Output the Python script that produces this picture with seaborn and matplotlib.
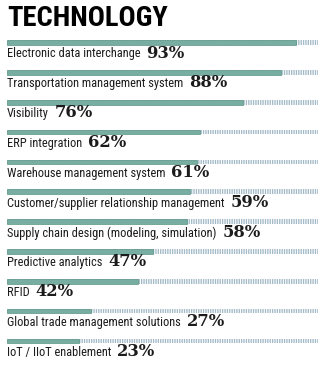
import matplotlib
matplotlib.use("Agg")
import matplotlib.pyplot as plt
import pandas as pd
import seaborn as sns
from matplotlib import font_manager as fm

# Survey results: share of respondents using each technology
title = "TECHNOLOGY"
categories = [
    "Electronic data interchange",
    "Transportation management system",
    "Visibility",
    "ERP integration",
    "Warehouse management system",
    "Customer/supplier relationship management",
    "Supply chain design (modeling, simulation)",
    "Predictive analytics",
    "RFID",
    "Global trade management solutions",
    "IoT / IIoT enablement",
]
shares = [93, 88, 76, 62, 61, 59, 58, 47, 42, 27, 23]
full_scale = [100] * len(categories)

TEAL = "#78ada1"
TEAL_EDGE = "#5b9386"
HATCH = "#a3bac8"
INK = "#1c1c1c"

sns.set_theme(style="white")
plt.rcParams["hatch.linewidth"] = 0.95

installed = {f.name for f in fm.fontManager.ttflist}
dejavu_narrow = any(
    f.name == "DejaVu Sans" and str(f.stretch) in ("condensed", "semi-condensed")
    for f in fm.fontManager.ttflist
)


def narrow_font(weight, size):
    for fam in ("Roboto Condensed", "Liberation Sans Narrow", "Open Sans Condensed"):
        if fam in installed:
            return fm.FontProperties(family=fam, weight=weight, size=size)
    if dejavu_narrow:
        return fm.FontProperties(family="DejaVu Sans", stretch="condensed",
                                 weight=weight, size=size)
    return fm.FontProperties(family="Roboto", weight=weight, size=size * 0.9)


title_font = narrow_font("heavy", 20.5)
label_font = narrow_font("normal", 8.9)
pct_font = fm.FontProperties(family="DejaVu Serif", weight="bold", size=11.8)

df = pd.DataFrame({"category": categories, "share": shares, "full": full_scale})

W, H, DPI = 325, 366, 100
fig = plt.figure(figsize=(W / DPI, H / DPI), dpi=DPI)
fig.patch.set_facecolor("white")

# axes spans the bar track: 0% at x=7px, 100% at x=318px
ax = fig.add_axes([7 / W, 0, 311 / W, 1])

bar_w = 0.155
# hatched track behind each bar (full scale)
sns.barplot(data=df, x="full", y="category", order=categories, orient="h",
            width=bar_w, color="white", ax=ax)
for p in ax.patches:
    p.set_facecolor("white")
    p.set_edgecolor(HATCH)
    p.set_linewidth(0)
    p.set_hatch("|||||||")
n_track = len(ax.patches)

# solid value bars
sns.barplot(data=df, x="share", y="category", order=categories, orient="h",
            width=bar_w, color=TEAL, ax=ax)
for p in ax.patches[n_track:]:
    p.set_facecolor(TEAL)
    p.set_edgecolor(TEAL_EDGE)
    p.set_linewidth(0.5)

step = 29.85
top = -42.5 / step
ax.set_xlim(0, 100)
ax.set_ylim(top + H / step, top)
ax.axis("off")

ax.text(0, top + 26.5 / step, title, fontproperties=title_font, color="black",
        ha="left", va="baseline")

base_off = 15.0 / step
labels = []
for i, cat in enumerate(categories):
    t = ax.text(0, i + base_off, cat, fontproperties=label_font, color=INK,
                ha="left", va="baseline")
    labels.append(t)

fig.canvas.draw()
renderer = fig.canvas.get_renderer()
inv = ax.transData.inverted()
for i, (t, v) in enumerate(zip(labels, shares)):
    x1 = t.get_window_extent(renderer).x1 + 6
    xd = inv.transform((x1, 0))[0]
    ax.text(xd, i + base_off, f"{v}%", fontproperties=pct_font, color=INK,
            ha="left", va="baseline")

fig.savefig("out.png", dpi=DPI, facecolor="white")
